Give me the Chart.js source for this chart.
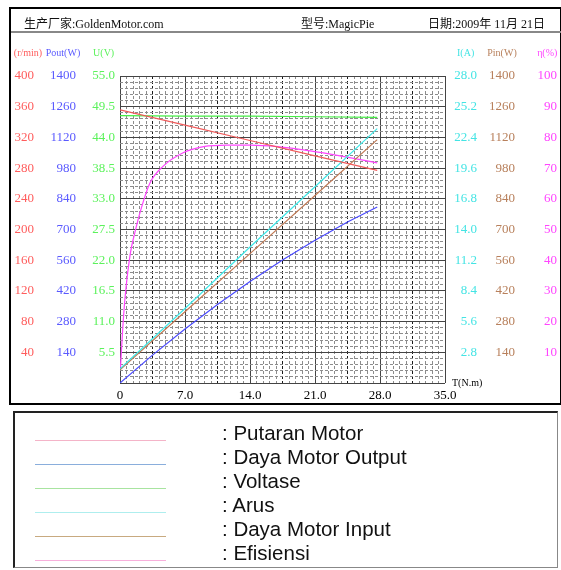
<!DOCTYPE html>
<html>
<head>
<meta charset="utf-8">
<script src="https://cdn.jsdelivr.net/npm/chart.js@4.4.1/dist/chart.umd.min.js"></script>
<style>
  body { margin: 0; background: #fff; width: 561px; height: 570px; overflow: hidden; position: relative;
         font-family: "Liberation Serif", "Noto Sans CJK SC", serif; }
  #perf { position: absolute; left: 0; top: 0; }
  #frame { position: absolute; left: 9px; top: 7px; width: 553px; height: 398px; box-sizing: border-box;
           border: 2px solid #000; pointer-events: none; }
  #header { position: absolute; left: 11px; top: 9px; width: 550px; height: 22px;
            border-bottom: 2px solid #888; font-size: 12px; color: #111; }
  #header span { position: absolute; top: 5px; white-space: nowrap; }
  #legend { position: absolute; left: 13px; top: 411px; width: 545px; height: 157px; box-sizing: border-box;
            border: 2px solid #222; border-bottom: 1px solid #888; border-right: 1px solid #888;
            font-family: "Liberation Sans", Arial, sans-serif; font-size: 20.5px; color: #111; }
  .row-line { position: absolute; left: 20px; width: 131px; height: 0; border-top: 1.5px solid; }
  .row-text { position: absolute; left: 207px; line-height: 22px; white-space: nowrap; }
</style>
</head>
<body>
<canvas id="perf" width="561" height="405"></canvas>
<div id="frame"></div>
<div id="header">
  <span style="left:13px">生产厂家:GoldenMotor.com</span>
  <span style="left:290px">型号:MagicPie</span>
  <span style="left:417px">日期:2009年 11月 21日</span>
</div>
<div id="legend"></div>
<script>
// torque (N.m) sample points
const torque = [0, 7, 14, 21, 27.7];
const speedRpm = [356, 336, 316, 296, 277];
const voltage = [47.9, 47.8, 47.8, 47.7, 47.6];
const current = [1.3, 6.8, 12.4, 17.9, 23.2];
const powerIn = [60, 325, 590, 855, 1110];

const torquePout = [0, 3.5, 7, 10.5, 14, 17.5, 21, 24.5, 27.7];
const powerOut = [0, 127, 246, 358, 463, 561, 651, 734, 803];

const torqueEff = [0.05, 0.3, 0.55, 1.1, 1.6, 2.2, 3.2, 4.6, 6.8, 9, 11.5, 14, 17, 20.5, 24, 27.7];
const efficiency = [5, 18, 28, 42, 49, 56, 65, 70.5, 75, 77, 77.5, 77.5, 77, 75.6, 73.8, 71.7];

// axis ticks and labels
const tTicks = [0, 7, 14, 21, 28, 35];
const tLabels = ['0', '7.0', '14.0', '21.0', '28.0', '35.0'];
const rpmTicks = [0, 40, 80, 120, 160, 200, 240, 280, 320, 360, 400];
const rpmLabels = ['', '40', '80', '120', '160', '200', '240', '280', '320', '360', '400'];
const poutTicks = [0, 140, 280, 420, 560, 700, 840, 980, 1120, 1260, 1400];
const poutLabels = ['', '140', '280', '420', '560', '700', '840', '980', '1120', '1260', '1400'];
const uTicks = [0, 5.5, 11, 16.5, 22, 27.5, 33, 38.5, 44, 49.5, 55];
const uLabels = ['', '5.5', '11.0', '16.5', '22.0', '27.5', '33.0', '38.5', '44.0', '49.5', '55.0'];
const iTicks = [0, 2.8, 5.6, 8.4, 11.2, 14, 16.8, 19.6, 22.4, 25.2, 28];
const iLabels = ['', '2.8', '5.6', '8.4', '11.2', '14.0', '16.8', '19.6', '22.4', '25.2', '28.0'];
const pinTicks = [0, 140, 280, 420, 560, 700, 840, 980, 1120, 1260, 1400];
const pinLabels = ['', '140', '280', '420', '560', '700', '840', '980', '1120', '1260', '1400'];
const etaTicks = [0, 10, 20, 30, 40, 50, 60, 70, 80, 90, 100];
const etaLabels = ['', '10', '20', '30', '40', '50', '60', '70', '80', '90', '100'];

const legendNames = [': Putaran Motor', ': Daya Motor Output', ': Voltase', ': Arus', ': Daya Motor Input', ': Efisiensi'];
const legendColors = ['#f4b4c8', '#8aaedc', '#a8e4a0', '#aeeeee', '#c8aa80', '#f8b0dc'];

const FONT = '"Liberation Serif", serif';

// legend box
const legendBox = document.getElementById('legend');
legendNames.forEach((name, i) => {
  const line = document.createElement('div');
  line.className = 'row-line';
  line.style.top = (27 + i * 24) + 'px';
  line.style.borderColor = legendColors[i];
  legendBox.appendChild(line);
  const txt = document.createElement('div');
  txt.className = 'row-text';
  txt.style.top = (9 + i * 24) + 'px';
  txt.textContent = name;
  legendBox.appendChild(txt);
});

function pts(xs, ys) {
  return xs.map((x, i) => ({ x: x, y: ys[i] }));
}

function valueAxis(ticks, labels, pos, weight, width, color, pad, unit) {
  return {
    type: 'linear',
    position: pos,
    weight: weight,
    min: ticks[0],
    max: ticks[ticks.length - 1],
    unit: unit,
    grid: { display: false, drawTicks: false },
    border: { display: false },
    afterBuildTicks: s => { s.ticks = ticks.map(v => ({ value: v })); },
    afterFit: s => { s.width = width; },
    ticks: {
      color: color,
      padding: pad,
      autoSkip: false,
      crossAlign: pos === 'right' ? 'far' : 'near',
      font: { family: FONT, size: 13 },
      callback: (v, i) => labels[i]
    }
  };
}

const unitLabels = {
  id: 'unitLabels',
  afterDraw(chart) {
    const ctx = chart.ctx;
    ctx.save();
    ['yN', 'yPout', 'yU', 'yI', 'yPin', 'yEta'].forEach(id => {
      const s = chart.scales[id];
      const o = s.options;
      ctx.font = '13px ' + FONT;
      const top = s.ticks.length ? o.ticks.callback(0, s.ticks.length - 1) : '';
      const w = ctx.measureText(top).width;
      const edge = o.position === 'left' ? s.right - o.ticks.padding : s.right;
      ctx.font = '10px ' + FONT;
      ctx.fillStyle = o.ticks.color;
      ctx.textAlign = 'center';
      ctx.textBaseline = 'middle';
      const cx = Math.max(edge - w / 2, 28);
      ctx.fillText(o.unit, cx, 53);
    });
    const area = chart.chartArea;
    ctx.font = '10px ' + FONT;
    ctx.fillStyle = '#000';
    ctx.textAlign = 'left';
    ctx.textBaseline = 'middle';
    ctx.fillText('T(N.m)', area.right + 7, area.bottom);
    ctx.restore();
  }
};

const ctx = document.getElementById('perf');

new Chart(ctx, {
  type: 'line',
  data: {
    datasets: [
      { label: 'Putaran Motor', data: pts(torque, speedRpm), yAxisID: 'yN', borderColor: '#f05a5a' },
      { label: 'Daya Motor Output', data: pts(torquePout, powerOut), yAxisID: 'yPout', borderColor: '#4a4aff' },
      { label: 'Voltase', data: pts(torque, voltage), yAxisID: 'yU', borderColor: '#44ee44' },
      { label: 'Arus', data: pts(torque, current), yAxisID: 'yI', borderColor: '#3ee8e8' },
      { label: 'Daya Motor Input', data: pts(torque, powerIn), yAxisID: 'yPin', borderColor: '#c07a55' },
      { label: 'Efisiensi', data: pts(torqueEff, efficiency), yAxisID: 'yEta', borderColor: '#ff44ff',
        cubicInterpolationMode: 'monotone' }
    ].map(d => Object.assign({ xAxisID: 'x', borderWidth: 1.2, pointRadius: 0, fill: false, tension: 0 }, d))
  },
  plugins: [unitLabels],
  options: {
    responsive: false,
    animation: false,
    devicePixelRatio: 1,
    layout: { padding: { top: 76, left: 0, right: 4, bottom: 0 } },
    plugins: {
      legend: { display: false },
      tooltip: { enabled: false }
    },
    scales: {
      x: {
        type: 'linear',
        position: 'bottom',
        min: 0,
        max: 35,
        grid: { display: false, drawTicks: false },
        border: { display: false },
        afterBuildTicks: s => { s.ticks = tTicks.map(v => ({ value: v })); },
        afterFit: s => { s.height = 22; },
        ticks: {
          color: '#000',
          padding: 5,
          autoSkip: false,
          maxRotation: 0,
          font: { family: FONT, size: 13 },
          callback: (v, i) => tLabels[i]
        }
      },
      xg: {
        type: 'linear',
        position: 'top',
        min: 0,
        max: 50,
        afterBuildTicks: s => { s.ticks = Array.from({ length: 51 }, (_, i) => ({ value: i })); },
        afterFit: s => { s.height = 0; },
        ticks: { display: false },
        border: {
          display: false,
          dash: c => (c.index % 10 === 0 ? [] : [3, 2])
        },
        grid: {
          drawTicks: false,
          lineWidth: 1,
          color: c => (c.index % 10 === 0 ? '#444' : (c.index % 5 === 0 ? '#1a1a1a' : '#8c8c8c'))
        }
      },
      yg: {
        type: 'linear',
        position: 'left',
        weight: -1,
        min: 0,
        max: 50,
        afterBuildTicks: s => { s.ticks = Array.from({ length: 51 }, (_, i) => ({ value: i })); },
        afterFit: s => { s.width = 0; },
        ticks: { display: false },
        border: {
          display: false,
          dash: c => (c.index % 5 === 0 ? [] : [3, 2])
        },
        grid: {
          drawTicks: false,
          lineWidth: 1,
          color: c => (c.index % 5 === 0 ? '#444' : '#8c8c8c')
        }
      },
      yU: valueAxis(uTicks, uLabels, 'left', 0, 42, '#5cf25c', 5, 'U(V)'),
      yPout: valueAxis(poutTicks, poutLabels, 'left', 1, 42, '#5a5aff', 2, 'Pout(W)'),
      yN: valueAxis(rpmTicks, rpmLabels, 'left', 2, 36, '#ff5c5c', 2, '(r/min)'),
      yI: valueAxis(iTicks, iLabels, 'right', 0, 32, '#44e4e4', 0, 'I(A)'),
      yPin: valueAxis(pinTicks, pinLabels, 'right', 1, 38, '#b8805c', 0, 'Pin(W)'),
      yEta: valueAxis(etaTicks, etaLabels, 'right', 2, 42, '#ff44ff', 0, 'η(%)')
    }
  }
});
</script>
</body>
</html>
